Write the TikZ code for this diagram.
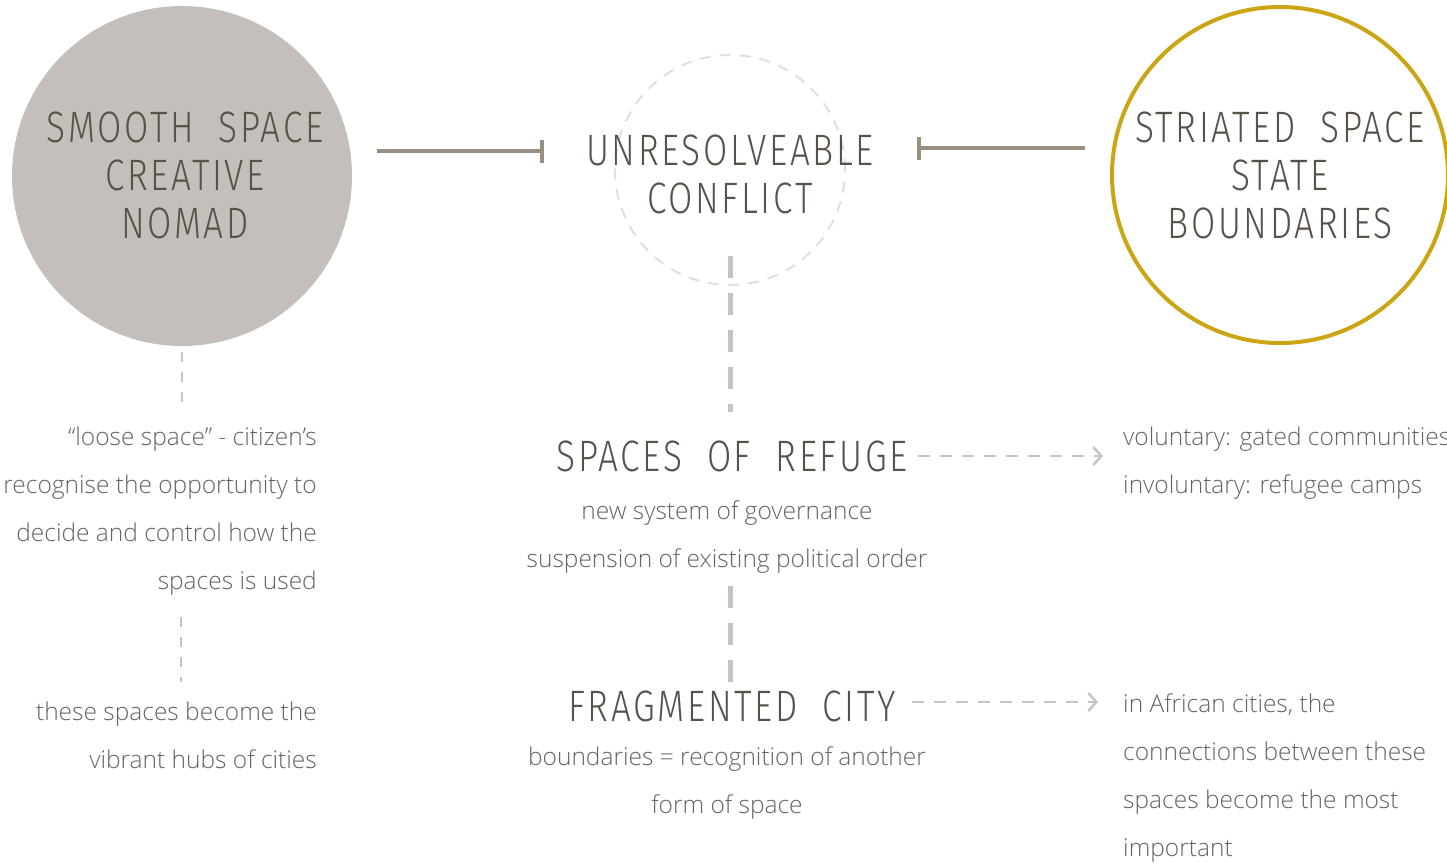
\documentclass[tikz,border=0pt]{standalone}
\usepackage{fontspec}
\usepackage{tikz}
\usetikzlibrary{
  shapes.geometric,
  arrows.meta,
  positioning, calc
}
\usepackage{xcolor}
\IfFontExistsTF{Fira Sans Light}
  {\newfontfamily\headfont[FakeStretch=0.8,LetterSpace=6,WordSpace=2.0]{Fira Sans Light}}
  {\newfontfamily\headfont[FakeStretch=0.8,LetterSpace=6,WordSpace=2.0]{Fira Sans}}
\IfFontExistsTF{Open Sans Light}
  {\newfontfamily\bodyfont{Open Sans Light}}
  {\newfontfamily\bodyfont{Open Sans}}
\definecolor{smoothfill}{RGB}{196,191,186}
\definecolor{headgray}{RGB}{88,82,75}
\definecolor{bodygray}{RGB}{105,100,95}
\definecolor{goldline}{RGB}{204,165,20}
\definecolor{tbargray}{RGB}{154,144,130}
\definecolor{dashgray}{RGB}{200,195,190}
\definecolor{conflictdash}{RGB}{226,223,219}
\tikzset{
  headtxt/.style={align=center,inner sep=0pt,text=headgray,font=\headfont\fontsize{44}{48}\selectfont},
  bodytxt/.style={inner sep=0pt,text=bodygray,font=\bodyfont\fontsize{24.5}{48}\selectfont},
  smoothcirc/.style={circle,fill=smoothfill,minimum size=340pt,inner sep=0pt},
  striatcirc/.style={circle,draw=goldline,line width=4pt,minimum size=336pt,inner sep=0pt},
  conflictcirc/.style={circle,draw=conflictdash,line width=2pt,dash pattern=on 11pt off 9pt,minimum size=230pt,inner sep=0pt},
  tbar/.style={-{Bar[width=23pt,line width=4pt]},line width=4.5pt,color=tbargray},
  thickdash/.style={line width=5pt,color=dashgray,dash pattern=on 22pt off 15pt},
  thindash/.style={line width=2pt,color=dashgray,dash pattern=on 10pt off 10pt},
  dasharr/.style={-{Straight Barb[length=8pt,width=18pt,line width=2.5pt]},line width=2.5pt,
                  color=dashgray,dash pattern=on 12pt off 10pt}
}

\begin{document}
\begin{tikzpicture}[x=1pt,y=-1pt]
  \useasboundingbox (0,0) rectangle (1447,863);

  % three circles across the top
  \node[smoothcirc] (smooth) at (182,176) {};
  \node[conflictcirc] (conflict) at (730,170) {};
  \node[striatcirc] (striated) at (1280,175) {};

  \node[headtxt] (smoothtxt) at (185,175) {SMOOTH SPACE\\CREATIVE\\NOMAD};
  \node[headtxt] (conflicttxt) at (730,174) {UNRESOLVEABLE\\CONFLICT};
  \node[headtxt] (striatedtxt) at (1280,175) {STRIATED SPACE\\STATE\\BOUNDARIES};

  \draw[tbar] ([xshift=25pt,yshift=25pt]smooth.east) -- ([xshift=-70pt,yshift=19pt]conflict.west);
  \draw[tbar] ([xshift=-25pt,yshift=27pt]striated.west) -- ([xshift=71pt,yshift=22pt]conflict.east);

  % middle column
  \node[headtxt] (refuge) at (732,456) {SPACES OF REFUGE};
  \node[bodytxt,align=center] (refugesub) at (727,537)
      {new system of governance\\suspension of existing political order};
  \node[headtxt] (fragment) at (732,706) {FRAGMENTED CITY};
  \node[bodytxt,align=center] (fragmentsub) at (727,783)
      {boundaries = recognition of another\\form of space};

  \draw[thickdash] ([yshift=30pt]conflict.south) -- ([yshift=28pt]refuge.north -| conflict.south);
  \draw[thickdash] ([yshift=-12pt]refugesub.south -| conflict.south) -- ([yshift=6pt]fragment.north -| conflict.south);

  % left column
  \node[bodytxt,align=right,anchor=east] (loose) at (317,511)
      {“loose space” - citizen’s\\recognise the opportunity to\\decide and control how the\\spaces is used};
  \node[bodytxt,align=right,anchor=east] (hubs) at (317,735)
      {these spaces become the\\vibrant hubs of cities};

  \draw[thindash] ([yshift=-6pt]smooth.south) -- ([yshift=-66pt]smooth.south);
  \draw[thindash] ([xshift=-136pt,yshift=-22pt]loose.south east) -- ([xshift=-136pt,yshift=19pt]hubs.north east);

  % right column
  \node[bodytxt,align=left,anchor=west] (gated) at (1123,463)
      {voluntary: gated communities\\involuntary: refugee camps};
  \node[bodytxt,align=left,anchor=west] (african) at (1123,778)
      {in African cities, the\\connections between these\\spaces become the most\\important};

  \draw[dasharr] ([xshift=10pt]refuge.east) -- ($(refuge.east -| gated.west)+(-20,0)$);
  \draw[dasharr] ([xshift=16pt,yshift=4pt]fragment.east) -- ($([yshift=4pt]fragment.east -| african.west)+(-25,0)$);
\end{tikzpicture}
\end{document}
